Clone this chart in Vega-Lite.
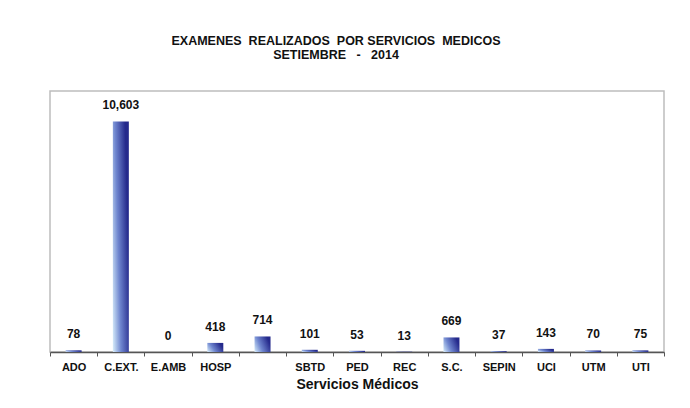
{
  "$schema": "https://vega.github.io/schema/vega-lite/v6.json",
  "autosize": "none",
  "width": 614,
  "height": 261,
  "padding": {"left": 50, "top": 91, "right": 26, "bottom": 56},
  "background": "white",
  "title": {
    "text": ["EXAMENES\u00a0 REALIZADOS\u00a0 POR SERVICIOS\u00a0 MEDICOS", "SETIEMBRE\u00a0\u00a0 -\u00a0\u00a0 2014"],
    "font": "Liberation Sans",
    "fontSize": 12.5,
    "fontWeight": "bold",
    "color": "#111",
    "anchor": "middle",
    "dx": -21,
    "offset": 30,
    "lineHeight": 14
  },
  "data": {
    "values": [
      {"servicio": "ADO", "examenes": 78},
      {"servicio": "C.EXT.", "examenes": 10603},
      {"servicio": "E.AMB", "examenes": 0},
      {"servicio": "HOSP", "examenes": 418},
      {"servicio": " ", "examenes": 714},
      {"servicio": "SBTD", "examenes": 101},
      {"servicio": "PED", "examenes": 53},
      {"servicio": "REC", "examenes": 13},
      {"servicio": "S.C.", "examenes": 669},
      {"servicio": "SEPIN", "examenes": 37},
      {"servicio": "UCI", "examenes": 143},
      {"servicio": "UTM", "examenes": 70},
      {"servicio": "UTI", "examenes": 75}
    ]
  },
  "encoding": {
    "x": {
      "field": "servicio",
      "type": "nominal",
      "sort": null,
      "title": "Servicios Médicos",
      "scale": {"paddingInner": 0, "paddingOuter": 0},
      "axis": {
        "labelAngle": 0,
        "labelFont": "Liberation Sans",
        "labelFontSize": 11,
        "labelFontWeight": "bold",
        "labelColor": "#111",
        "labelPadding": 5,
        "titleFont": "Liberation Sans",
        "titleFontSize": 14,
        "titleFontWeight": "bold",
        "titleColor": "#111",
        "titlePadding": 5,
        "domainColor": "#555",
        "domainWidth": 1.5,
        "tickColor": "#555",
        "tickBand": "extent",
        "tickSize": 4
      }
    },
    "y": {
      "field": "examenes",
      "type": "quantitative",
      "scale": {"domain": [0, 12000], "nice": false},
      "axis": null
    }
  },
  "layer": [
    {
      "mark": {
        "type": "bar",
        "size": 16,
        "fill": {
          "gradient": "linear",
          "x1": 0, "y1": 1, "x2": 1, "y2": 0.6,
          "stops": [
            {"offset": 0, "color": "#d8eefb"},
            {"offset": 0.45, "color": "#6f86cf"},
            {"offset": 1, "color": "#252a8c"}
          ]
        }
      }
    },
    {
      "mark": {
        "type": "text",
        "baseline": "bottom",
        "dy": -9,
        "font": "Liberation Sans",
        "fontSize": 12,
        "fontWeight": "bold",
        "color": "#111"
      },
      "encoding": {
        "text": {"field": "examenes", "type": "quantitative", "format": ","}
      }
    }
  ],
  "config": {
    "view": {"stroke": "#bdbdbd", "strokeWidth": 1.5}
  }
}
